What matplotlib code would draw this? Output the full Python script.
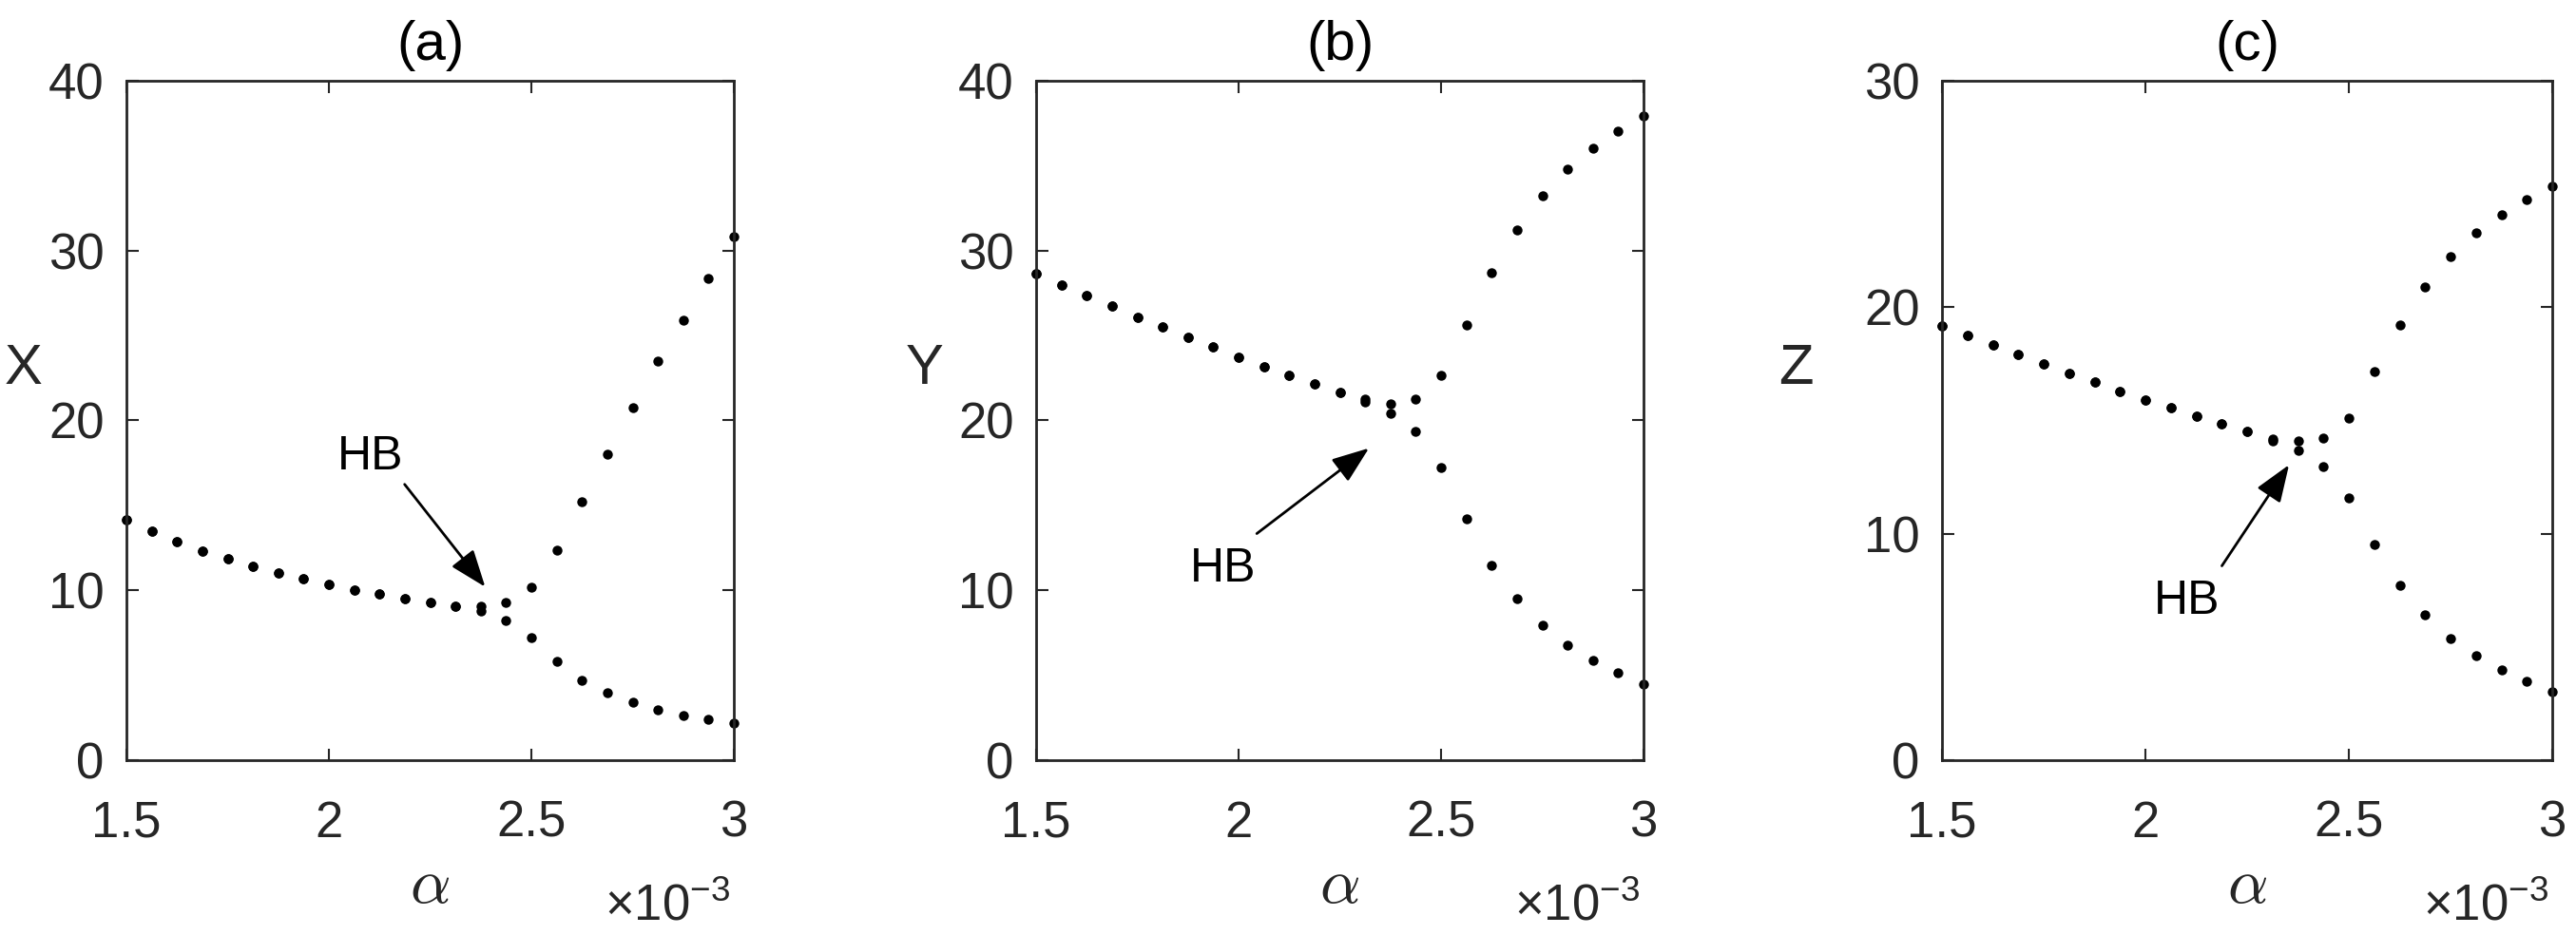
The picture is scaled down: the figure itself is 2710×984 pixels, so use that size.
import matplotlib
matplotlib.use("Agg")
import matplotlib.pyplot as plt

plt.rcParams['font.family'] = ['Liberation Sans', 'DejaVu Sans']
plt.rcParams['mathtext.fontset'] = 'custom'
plt.rcParams['mathtext.rm'] = 'Liberation Sans'
plt.rcParams['mathtext.it'] = 'Liberation Sans:italic'

# bifurcation parameter alpha
alpha = [1.5e-3, 1.5625e-3, 1.625e-3, 1.6875e-3, 1.75e-3, 1.8125e-3, 1.875e-3,
         1.9375e-3, 2.0e-3, 2.0625e-3, 2.125e-3, 2.1875e-3, 2.25e-3, 2.3125e-3,
         2.375e-3, 2.4375e-3, 2.5e-3, 2.5625e-3, 2.625e-3, 2.6875e-3, 2.75e-3,
         2.8125e-3, 2.875e-3, 2.9375e-3, 3.0e-3]

x_max = [14.15, 13.48, 12.88, 12.31, 11.85, 11.42, 11.01, 10.66, 10.34, 10.01,
         9.77, 9.53, 9.31, 9.09, 9.04, 9.26, 10.20, 12.34, 15.24, 18.00,
         20.76, 23.49, 25.93, 28.34, 30.80]
x_min = [14.15, 13.48, 12.88, 12.31, 11.85, 11.42, 11.01, 10.66, 10.34, 10.01,
         9.77, 9.53, 9.31, 9.09, 8.77, 8.20, 7.20, 5.82, 4.71, 3.95,
         3.41, 2.98, 2.65, 2.41, 2.17]

y_max = [28.65, 27.99, 27.36, 26.73, 26.09, 25.49, 24.88, 24.31, 23.73, 23.18,
         22.66, 22.16, 21.64, 21.25, 20.98, 21.25, 22.63, 25.60, 28.70, 31.21,
         33.21, 34.81, 36.05, 37.01, 37.92]
y_min = [28.65, 27.99, 27.36, 26.73, 26.09, 25.49, 24.88, 24.31, 23.73, 23.18,
         22.66, 22.16, 21.64, 21.09, 20.43, 19.33, 17.24, 14.21, 11.47, 9.49,
         7.97, 6.79, 5.88, 5.14, 4.45]

z_max = [19.19, 18.76, 18.33, 17.90, 17.49, 17.09, 16.70, 16.29, 15.90, 15.55,
         15.18, 14.86, 14.51, 14.20, 14.08, 14.22, 15.12, 17.15, 19.23, 20.91,
         22.22, 23.30, 24.10, 24.75, 25.36]
z_min = [19.19, 18.76, 18.33, 17.90, 17.49, 17.09, 16.70, 16.29, 15.90, 15.55,
         15.18, 14.86, 14.51, 14.08, 13.69, 12.96, 11.57, 9.54, 7.73, 6.40,
         5.37, 4.60, 3.99, 3.47, 3.02]

titles = ['(a)', '(b)', '(c)']
ylabels = ['X', 'Y', 'Z']
ymax = [40, 40, 30]
xticks = [1.5, 2, 2.5, 3]
# HB label (x, y) and arrow tail -> head, alpha in 1e-3 units
hb_text = [(2.103, 17.86), (1.961, 11.22), (2.102, 7.01)]
hb_tail = [(2.187, 16.24), (2.045, 13.34), (2.188, 8.58)]
hb_head = [(2.386, 10.2), (2.322, 18.37), (2.353, 13.04)]
ylabel_x = [-0.169, -0.183, -0.24]

dark = '#262626'
fig = plt.figure(figsize=(27.1, 9.84), dpi=100)
lefts = [133 / 2710, 1090 / 2710, 2043 / 2710]
widths = [639 / 2710, 639 / 2710, 642 / 2710]
series = [(x_max, x_min), (y_max, y_min), (z_max, z_min)]

a_scaled = [a * 1e3 for a in alpha]
for i in range(3):
    ax = fig.add_axes([lefts[i], 184 / 984, widths[i], 715 / 984])
    up, lo = series[i]
    ax.plot(a_scaled, up, 'o', color='k', ms=7.5, mew=0, clip_on=False)
    ax.plot(a_scaled, lo, 'o', color='k', ms=7.5, mew=0, clip_on=False)
    ax.set_xlim(1.5, 3)
    ax.set_ylim(0, ymax[i])
    ax.set_xticks(xticks)
    ax.set_xticklabels(['1.5', '2', '2.5', '3'])
    ax.set_yticks(range(0, ymax[i] + 1, 10))
    ax.tick_params(direction='in', length=9, width=1.5, top=True, right=True,
                   labelsize=38, colors=dark)
    ax.tick_params(axis='x', pad=30)
    ax.tick_params(axis='y', pad=17)
    for sp in ax.spines.values():
        sp.set_linewidth(2)
        sp.set_color(dark)
    ax.set_title(titles[i], fontsize=42, color='k', pad=16)
    ax.text(ylabel_x[i], 0.575, ylabels[i], transform=ax.transAxes,
            fontsize=43, ha='center', va='center', color=dark)
    ax.text(0.5, -0.186, r'$\alpha$', transform=ax.transAxes, fontsize=48,
            ha='center', va='center', color=dark, math_fontfamily='cm')
    ax.text(0.995, -0.236, r'$\times10^{-3}$', transform=ax.transAxes,
            fontsize=38, ha='right', va='baseline', color=dark)
    ax.annotate('', xy=hb_head[i], xytext=hb_tail[i],
                arrowprops=dict(arrowstyle='-|>,head_length=0.8,head_width=0.3',
                                mutation_scale=30, lw=2, color='k',
                                shrinkA=0, shrinkB=0))
    ax.text(hb_text[i][0], hb_text[i][1], 'HB', fontsize=36,
            ha='center', va='center', color='k')

fig.savefig('out.png', dpi=100)
